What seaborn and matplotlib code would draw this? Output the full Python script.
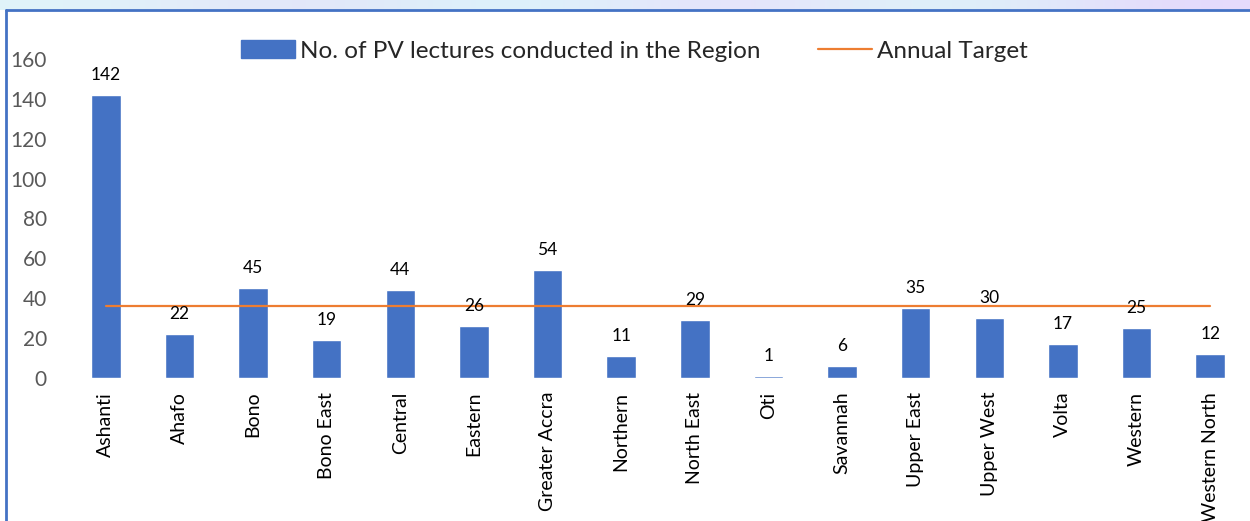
import numpy as np
import matplotlib.pyplot as plt
import seaborn as sns
from matplotlib.lines import Line2D
from matplotlib.patches import Patch

regions = ["Ashanti", "Ahafo", "Bono", "Bono East", "Central", "Eastern",
           "Greater Accra", "Northern", "North East", "Oti", "Savannah",
           "Upper East", "Upper West", "Volta", "Western", "Western North"]
lectures = [142, 22, 45, 19, 44, 26, 54, 11, 29, 1, 6, 35, 30, 17, 25, 12]
target = [36] * len(regions)
y_ticks = [0, 20, 40, 60, 80, 100, 120, 140, 160]

sns.set_style("white")
plt.rcParams['font.family'] = ['Lato', 'DejaVu Sans']

fig = plt.figure(figsize=(12.5, 5.21), dpi=100)
ax = fig.add_axes([0.0552, 0.2745, 0.9424, 0.6123])

sns.barplot(x=regions, y=lectures, color="#4472C4", width=0.4,
            saturation=1, ax=ax)
ax.plot(range(len(regions)), target, color="#ED7D31", lw=1.6)

for i, v in enumerate(lectures):
    ax.text(i, v + 6, str(v), ha="center", va="bottom", fontsize=12.5,
            color="#000000")

ax.set_xlim(-0.5, len(regions) - 0.5)
ax.set_ylim(0, 160)
ax.set_yticks(y_ticks)
ax.tick_params(axis="y", labelsize=15, labelcolor="#595959", length=0, pad=16)
ax.tick_params(axis="x", labelsize=14, labelcolor="#000000", length=0,
               rotation=90, pad=10)
for lbl in ax.get_xticklabels():
    lbl.set_va("top")
for s in ax.spines.values():
    s.set_visible(False)

handles = [Patch(color="#4472C4"), Line2D([0], [0], color="#ED7D31", lw=1.6)]
ax.legend(handles, ["No. of PV lectures conducted in the Region", "Annual Target"],
          loc="center", bbox_to_anchor=(0.48, 1.025), ncol=2, frameon=False,
          fontsize=17.5, handlelength=2.2, columnspacing=2.4, handletextpad=0.2)

# header strip and frame
strip = fig.add_axes([0, 1 - 10 / 521, 1, 10 / 521])
grad = np.array([[0.88, 0.96, 0.98], [0.90, 0.88, 0.98], [0.85, 0.98, 0.98],
                 [0.92, 0.86, 0.99], [0.86, 0.98, 0.97], [0.90, 0.85, 0.99]])
strip.imshow(grad[np.newaxis, :, :], aspect="auto", interpolation="bicubic")
strip.axis("off")
fig.add_artist(Line2D([6 / 1250, 1], [1 - 10 / 521, 1 - 10 / 521],
                      color="#4472C4", lw=2, transform=fig.transFigure))
fig.add_artist(Line2D([6 / 1250, 6 / 1250], [0, 1 - 10 / 521],
                      color="#4472C4", lw=2, transform=fig.transFigure))

fig.savefig("out.png", dpi=100)
